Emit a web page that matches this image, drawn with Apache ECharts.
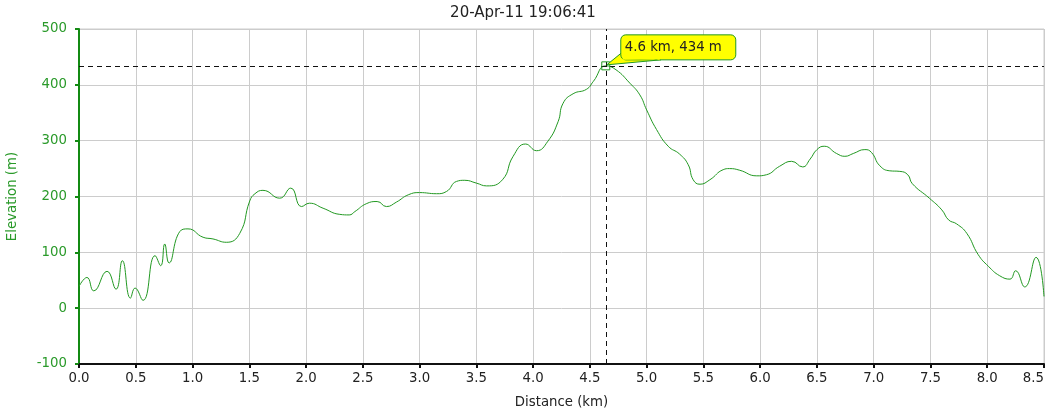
<!DOCTYPE html>
<html>
<head>
<meta charset="utf-8">
<script src="https://cdn.jsdelivr.net/npm/echarts@6/dist/echarts.min.js"></script>
<style>
html,body{margin:0;padding:0;background:#fff;}
#chart{width:1046px;height:416px;}
</style>
</head>
<body>
<div id="chart"></div>
<script>
var titleText = '20-Apr-11 19:06:41';
var distanceKm = [0, 0.07, 0.13, 0.247, 0.326, 0.382, 0.453, 0.494, 0.564, 0.67, 0.72, 0.755, 0.793, 0.887, 0.96, 1.093, 1.18, 1.298, 1.416, 1.504, 1.55, 1.62, 1.768, 1.865, 1.96, 2.03, 2.15, 2.297, 2.38, 2.43, 2.53, 2.626, 2.708, 2.796, 2.9, 3.0, 3.15, 3.237, 3.325, 3.398, 3.5, 3.59, 3.73, 3.824, 3.933, 4.03, 4.13, 4.22, 4.264, 4.352, 4.47, 4.53, 4.64, 4.73, 4.852, 4.94, 5.0, 5.087, 5.19, 5.29, 5.366, 5.41, 5.47, 5.557, 5.674, 5.73, 5.82, 5.97, 6.056, 6.17, 6.277, 6.374, 6.44, 6.5, 6.564, 6.673, 6.746, 6.82, 6.922, 6.98, 7.054, 7.142, 7.23, 7.3, 7.34, 7.49, 7.6, 7.66, 7.73, 7.82, 7.92, 8.01, 8.11, 8.2, 8.25, 8.33, 8.43, 8.5];
var elevationM = [39, 55, 31, 66, 34, 85, 18, 36, 14, 94, 76, 115, 81, 137, 142, 127, 124, 118, 134, 192, 205, 211, 197, 215, 182, 188, 179, 168, 167, 173, 187, 191, 182, 190, 203, 207, 205, 209, 227, 229, 224, 219, 230, 272, 294, 282, 299, 334, 367, 384, 392, 406, 434, 427, 403, 382, 355, 320, 290, 276, 257, 230, 222, 230, 248, 250, 247, 237, 239, 254, 263, 253, 267, 284, 290, 277, 272, 277, 284, 279, 255, 246, 245, 239, 223, 197, 176, 158, 151, 134, 96, 75, 58, 52, 67, 38, 91, 21];
var xTicks = {min: 0, max: 8.5, step: 0.5};
var yTicks = {min: -100, max: 500, step: 100};
var highlightPoint = [4.64, 434];
var highlightLabel = '4.6 km, 434 m';

var seriesData = distanceKm.map(function (d, i) { return [d, elevationM[i]]; });
var FONT = '"DejaVu Sans", Verdana, sans-serif';
var FS = 13.3;
var GREEN = '#229922';
var AXIS_GREEN = '#138a13';
var LABEL_GREEN = '#2a9a2a';

var chart = echarts.init(document.getElementById('chart'));
chart.setOption({
  animation: false,
  backgroundColor: '#fff',
  title: {
    text: titleText, left: 'center', top: 1,
    textStyle: {fontFamily: FONT, fontSize: 15, fontWeight: 'normal', color: '#222'}
  },
  grid: {left: 79, right: 2, top: 29, bottom: 52, containLabel: false, outerBoundsMode: 'none',
         show: true, borderColor: '#cccccc', borderWidth: 1, backgroundColor: '#fff'},
  xAxis: {
    type: 'value', min: xTicks.min, max: xTicks.max, interval: xTicks.step,
    name: 'Distance (km)', nameLocation: 'middle', nameGap: 32,
    nameTextStyle: {fontFamily: FONT, fontSize: FS, color: '#222'},
    axisLine: {show: true, onZero: false, lineStyle: {color: '#111', width: 2}},
    axisTick: {show: true, length: 4, lineStyle: {color: '#111', width: 2}},
    axisLabel: {fontFamily: FONT, fontSize: FS, color: '#222', margin: 8, hideOverlap: false,
                alignMaxLabel: 'right',
                formatter: function (v) { return v.toFixed(1); }},
    splitLine: {show: true, lineStyle: {color: '#cccccc', width: 1}}
  },
  yAxis: {
    type: 'value', min: yTicks.min, max: yTicks.max, interval: yTicks.step,
    name: 'Elevation (m)', nameLocation: 'middle', nameGap: 60,
    nameTextStyle: {fontFamily: FONT, fontSize: FS, color: LABEL_GREEN},
    axisLine: {show: true, onZero: false, lineStyle: {color: AXIS_GREEN, width: 2}},
    axisTick: {show: true, length: 4, lineStyle: {color: AXIS_GREEN, width: 2}},
    axisLabel: {fontFamily: FONT, fontSize: FS, color: LABEL_GREEN, margin: 12},
    splitLine: {show: true, lineStyle: {color: '#cccccc', width: 1}}
  },
  series: [
    {
      type: 'line', data: seriesData, smooth: 0.5, symbol: 'none',
      lineStyle: {color: GREEN, width: 1},
      z: 3,
      markLine: {
        silent: true, symbol: 'none', label: {show: false},
        lineStyle: {color: '#111', type: [5, 4], width: 1},
        data: [{xAxis: highlightPoint[0]}, {yAxis: highlightPoint[1]}]
      },
      markPoint: {
        silent: true,
        symbol: 'rect', symbolSize: 8,
        itemStyle: {color: 'rgba(255,255,255,0)', borderColor: GREEN, borderWidth: 1},
        label: {show: false},
        data: [{coord: highlightPoint}]
      }
    },
    {
      type: 'custom', coordinateSystem: 'cartesian2d', z: 10, silent: true, clip: false,
      data: [highlightPoint],
      renderItem: function (params, api) {
        var p = api.coord([api.value(0), api.value(1)]);
        var bx = p[0] + 15, by = p[1] - 31, bw = 115, bh = 25;
        return {
          type: 'group',
          children: [
            {type: 'polygon', shape: {points: [[p[0] + 17, p[1] - 14], [p[0] + 1, p[1] - 1], [p[0] + 55, p[1] - 6]]},
             style: {fill: '#ffff00', stroke: GREEN, lineWidth: 1}},
            {type: 'rect', shape: {x: bx, y: by, width: bw, height: bh, r: 5},
             style: {fill: '#ffff00', stroke: GREEN, lineWidth: 1}},
            {type: 'polygon', shape: {points: [[p[0] + 16.5, p[1] - 13], [p[0] + 54, p[1] - 5.5], [p[0] + 54, p[1] - 6.5], [p[0] + 17, p[1] - 6]]},
             style: {fill: '#ffff00', lineWidth: 0}},
            {type: 'text', style: {x: bx + 4, y: by + bh / 2, text: highlightLabel, fill: '#222',
             font: '13.3px "DejaVu Sans", Verdana, sans-serif', verticalAlign: 'middle', align: 'left'}}
          ]
        };
      }
    }
  ]
});
</script>
</body>
</html>
